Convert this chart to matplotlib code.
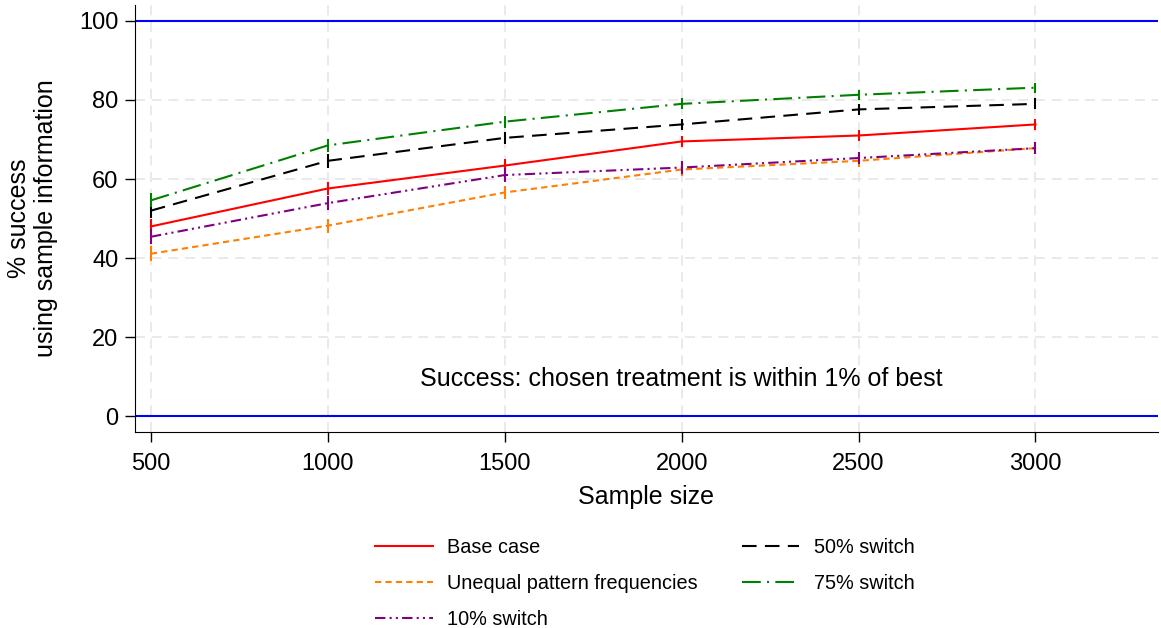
import matplotlib
matplotlib.use("Agg")
import matplotlib.pyplot as plt
import numpy as np

sizes = [500, 1000, 1500, 2000, 2500, 3000]
labels = ["Base case", "Unequal pattern frequencies", "10% switch", "50% switch", "75% switch"]
base = [48.0, 57.6, 63.4, 69.5, 71.0, 73.8]
unequal = [41.1, 48.2, 56.6, 62.4, 64.6, 67.8]
sw10 = [45.4, 53.9, 61.0, 62.9, 65.3, 67.8]
sw50 = [52.0, 64.6, 70.4, 73.8, 77.6, 79.0]
sw75 = [54.6, 68.5, 74.5, 79.0, 81.3, 83.1]
# half-width of the intervals drawn at each point
ci_base = [1.8, 1.7, 1.6, 1.5, 1.5, 1.4]
ci_unequal = [1.9, 1.8, 1.7, 1.6, 1.5, 1.5]
ci_sw10 = [1.9, 1.8, 1.7, 1.6, 1.5, 1.5]
ci_sw50 = [1.8, 1.7, 1.6, 1.5, 1.4, 1.4]
ci_sw75 = [1.8, 1.6, 1.5, 1.4, 1.3, 1.3]

series = [base, unequal, sw10, sw50, sw75]
cis = [ci_base, ci_unequal, ci_sw10, ci_sw50, ci_sw75]
colors = ["#ff0000", "#ff7f00", "#800080", "#000000", "#008000"]
styles = ["-", (0, (3, 2)), (0, (5, 2, 1, 2, 1, 2)), (0, (7, 4)), (0, (9, 3, 1, 3))]

plt.rcParams.update({
    "font.family": ["Liberation Sans", "DejaVu Sans"],
    "font.size": 17,
})
fig = plt.figure(figsize=(11.61, 6.28), dpi=100)
ax = fig.add_axes([0.1163, 0.312, 0.8807, 0.68])

ax.axhline(0, color="#0000ff", lw=1.5, zorder=1)
ax.axhline(100, color="#0000ff", lw=1.5, zorder=1)

for y, ci, c, ls, lab in zip(series, cis, colors, styles, labels):
    ax.plot(sizes, y, color=c, ls=ls, lw=1.5, label=lab, zorder=3)
    ax.errorbar(sizes, y, yerr=ci, fmt="none", ecolor=c, elinewidth=1.5,
                capsize=0, zorder=3)

ax.text(2000, 9.3, "Success: chosen treatment is within 1% of best",
        ha="center", va="center", fontsize=18)

ax.set_xlim(455, 3345)
ax.set_ylim(-4, 104)
ax.set_xticks(sizes)
ax.set_yticks([0, 20, 40, 60, 80, 100])
ax.grid(True, color="#e6e6e6", ls=(0, (6, 4)), lw=1.2, zorder=0)
ax.set_axisbelow(True)
for s in ("top", "right"):
    ax.spines[s].set_visible(False)
ax.tick_params(direction="out", length=7, width=1, labelsize=17)
ax.tick_params(axis="x", pad=8)
ax.tick_params(axis="y", pad=5)
ax.set_xlabel("Sample size", fontsize=18, labelpad=7)
ax.set_ylabel("% success\nusing sample information", fontsize=18)
ax.yaxis.set_label_coords(-0.075, 0.5)

fig.legend(*ax.get_legend_handles_labels(), loc="upper left",
           bbox_to_anchor=(0.323, 0.143), ncol=2, frameon=False,
           fontsize=14.3, handlelength=2.9, handletextpad=0.75,
           columnspacing=2.2, labelspacing=0.85, borderpad=0, borderaxespad=0)

fig.savefig("out.png", dpi=100)
